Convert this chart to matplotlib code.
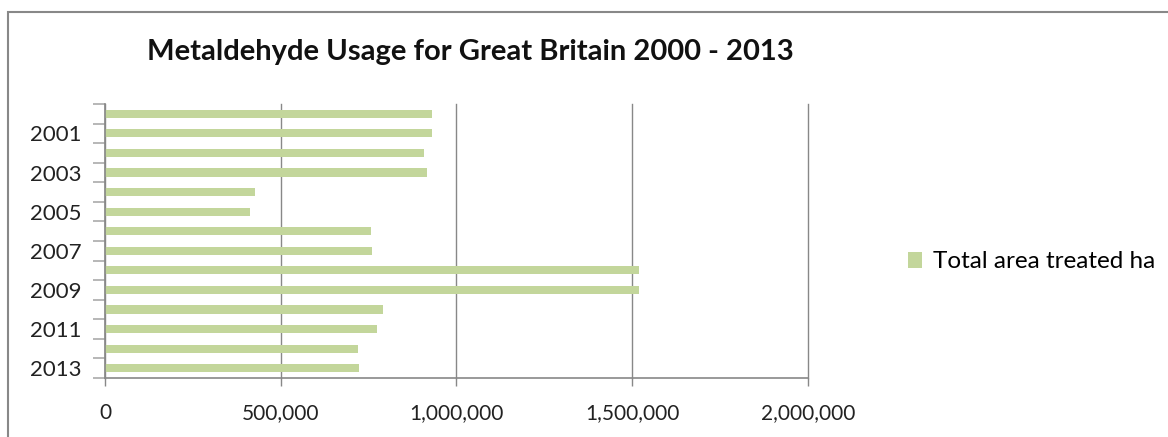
import matplotlib.pyplot as plt
import numpy as np
from matplotlib.ticker import FuncFormatter
from matplotlib.patches import Rectangle

years = list(range(2000, 2014))
area_ha = [931000, 931000, 909000, 916000, 428000, 413000, 756000,
           760000, 1518000, 1518000, 792000, 774000, 720000, 724000]
x_ticks = [0, 500000, 1000000, 1500000, 2000000]
series_name = "Total area treated ha"
title = "Metaldehyde Usage for Great Britain 2000 - 2013"

bar_color = "#c3d69b"
axis_gray = "#888888"
font = ["Lato", "DejaVu Sans"]

fig = plt.figure(figsize=(11.68, 4.37), dpi=100)
ax = fig.add_axes([0.0899, 0.135, 0.6018, 0.627])

pos = np.arange(len(years))
ax.barh(pos, area_ha, height=0.42, color=bar_color, label=series_name, zorder=2)
ax.set_ylim(len(years) - 0.5, -0.5)
ax.set_xlim(0, 2000000)

# labels only on odd years, ticks on category boundaries
lab_pos = [i for i, y in enumerate(years) if y % 2 == 1]
ax.set_yticks(lab_pos)
ax.set_yticklabels([str(years[i]) for i in lab_pos], fontsize=16, family=font,
                   color="#222222")
ax.set_yticks(np.arange(-0.5, len(years)), minor=True)
ax.tick_params(axis="y", which="major", length=0, pad=17)
ax.tick_params(axis="y", which="minor", length=9, width=1.2, color="#aaaaaa")

ax.set_xticks(x_ticks)
ax.xaxis.set_major_formatter(FuncFormatter(lambda v, p: f"{int(v):,}"))
ax.tick_params(axis="x", length=6, width=1, color=axis_gray, pad=12)
for lbl in ax.get_xticklabels():
    lbl.set_fontsize(15)
    lbl.set_family(font)
    lbl.set_color("#222222")

ax.grid(True, axis="x", color=axis_gray, linewidth=1, zorder=0)
for gl in ax.get_xgridlines():
    gl.set_clip_on(False)
ax.set_axisbelow(True)
for s in ["top", "right"]:
    ax.spines[s].set_visible(False)
for s in ["left", "bottom"]:
    ax.spines[s].set_color(axis_gray)
    ax.spines[s].set_linewidth(1.2)

fig.text(147 / 1168, 1 - 52 / 437, title, fontsize=21, fontweight="bold",
         family=font, va="center", ha="left", color="#111111")

leg = fig.legend(loc="center left", bbox_to_anchor=(886 / 1168, 1 - 262 / 437),
                 frameon=False, prop={"family": font, "size": 17.5},
                 handlelength=0.6, handleheight=0.6, handletextpad=0.45)

# outer chart frame
fig.patches.append(Rectangle((8 / 1168, -0.05), 1.1, 1 - 12 / 437 + 0.05,
                             transform=fig.transFigure, fill=False,
                             edgecolor="#888888", linewidth=1.5))

fig.savefig("out.png", dpi=100)
